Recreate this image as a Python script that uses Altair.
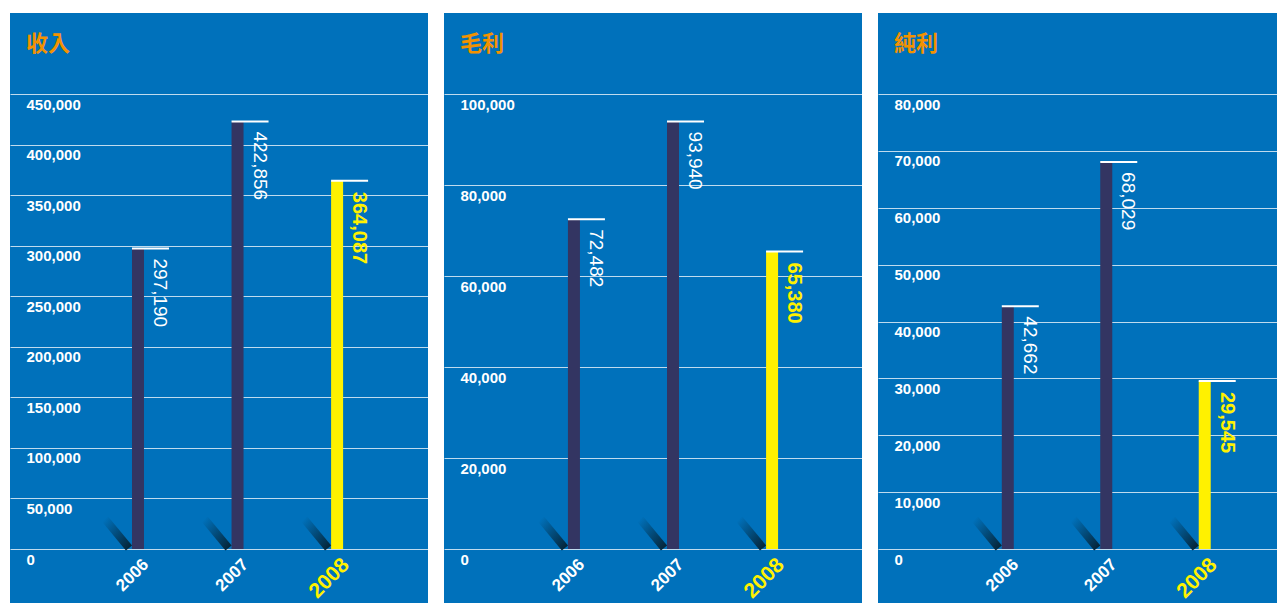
import altair as alt
import pandas as pd

# ---- data ----
years = [2006, 2007, 2008]
revenue = [297190, 422856, 364087]
gross_profit = [72482, 93940, 65380]
net_profit = [42662, 68029, 29545]

titles = ["收入", "毛利", "純利"]
tick_max = [450000, 100000, 80000]
tick_step = [50000, 20000, 10000]

# ---- styles ----
BLUE = "#0071bb"
NAVY = "#333562"
YELLOW = "#fff100"
ORANGE = "#f39200"
NARROW = "Liberation Sans Narrow, Liberation Sans, sans-serif"

PANEL_H = 590
ZERO_PX = 536   # pixel position of 0 measured from panel top
TOP_PX = 81     # pixel position of the top tick from panel top


def panel(title, values, tmax, step, width, left_px, right_px):
    df = pd.DataFrame({"year": years, "value": values})
    latest = max(years)
    ppu = (ZERO_PX - TOP_PX) / tmax
    ydom = [-(PANEL_H - ZERO_PX) / ppu, tmax + TOP_PX / ppu]
    px_per_year = (width - left_px - right_px) / (len(years) - 1)
    xdom = [min(years) - left_px / px_per_year, max(years) + right_px / px_per_year]

    xs = alt.Scale(domain=xdom, nice=False, zero=False)
    ys = alt.Scale(domain=ydom, nice=False, zero=False)
    ticks = list(range(0, tmax + 1, step))

    yaxis = alt.Axis(
        values=ticks, format=",d", grid=True, gridColor="white", gridOpacity=0.75,
        gridWidth=1, domain=False, ticks=False, tickSize=0, labelAlign="left",
        labelPadding=-16, labelBaseline="top", labelOffset=3, labelColor="white",
        labelFont=NARROW, labelFontSize=15, labelFontWeight="bold", title=None,
    )

    X = alt.X("year:Q", scale=xs, axis=None)
    Yv = alt.Y("value:Q", scale=ys, axis=yaxis, title=None)
    Yb = alt.Y("base:Q", scale=ys, axis=yaxis, title=None)

    base = alt.Chart(df).transform_calculate(base="0")
    is_latest = alt.datum.year == latest

    bars = base.mark_bar(size=12).encode(
        x=X, y=Yv,
        color=alt.condition(is_latest, alt.value(YELLOW), alt.value(NAVY)),
    )

    shadow = base.mark_rule(
        strokeWidth=8, strokeCap="butt", xOffset=-9, x2Offset=-33, yOffset=-1, y2Offset=-30,
        color=alt.LinearGradient(
            gradient="linear",
            stops=[alt.GradientStop(color=BLUE, offset=0),
                   alt.GradientStop(color="#05263a", offset=1)],
            x1=0, y1=0, x2=1, y2=1,
        ),
    ).encode(x=X, x2=alt.X2("year:Q"), y=Yb, y2=alt.Y2("base:Q"))

    caps = base.mark_rule(color="white", strokeWidth=2, xOffset=-6, x2Offset=31).encode(
        x=X, x2=alt.X2("year:Q"), y=Yv,
    )

    val_norm = base.transform_filter(~is_latest).mark_text(
        angle=90, align="left", baseline="middle", xOffset=22, yOffset=10,
        font="Liberation Sans", fontSize=19, color="white",
    ).encode(x=X, y=Yv, text=alt.Text("value:Q", format=",d"))

    val_hi = base.transform_filter(is_latest).mark_text(
        angle=90, align="left", baseline="middle", xOffset=22, yOffset=11,
        font="Liberation Sans", fontSize=20, fontWeight="bold", color=YELLOW,
    ).encode(x=X, y=Yv, text=alt.Text("value:Q", format=",d"))

    yr_norm = base.transform_filter(~is_latest).mark_text(
        angle=315, align="right", baseline="middle", xOffset=8, yOffset=13,
        font=NARROW, fontSize=17, fontWeight="bold", color="white",
    ).encode(x=X, y=Yb, text=alt.Text("year:N"))

    yr_hi = base.transform_filter(is_latest).mark_text(
        angle=315, align="right", baseline="middle", xOffset=9, yOffset=13,
        font=NARROW, fontSize=21, fontWeight="bold", color=YELLOW,
    ).encode(x=X, y=Yb, text=alt.Text("year:N"))

    ttl = alt.Chart(pd.DataFrame({"t": [title]})).mark_text(
        align="left", baseline="middle", font="Noto Sans CJK TC", fontSize=22,
        fontWeight="bold", color=ORANGE,
    ).encode(x=alt.value(16), y=alt.value(31), text="t:N")

    return alt.layer(bars, shadow, caps, val_norm, val_hi, yr_norm, yr_hi, ttl).properties(
        width=width, height=PANEL_H
    )


p1 = panel(titles[0], revenue, tick_max[0], tick_step[0], 418, 126, 88)
p2 = panel(titles[1], gross_profit, tick_max[1], tick_step[1], 418, 128, 87)
p3 = panel(titles[2], net_profit, tick_max[2], tick_step[2], 399, 128, 69)

chart = alt.hconcat(p1, p2, p3, spacing=16).properties(
    background="white",
    padding={"left": 2, "top": 5, "right": 0, "bottom": 0},
).configure_view(fill=BLUE, strokeWidth=0)

chart.save("out.html", embed_options={"renderer": "svg", "actions": False})
